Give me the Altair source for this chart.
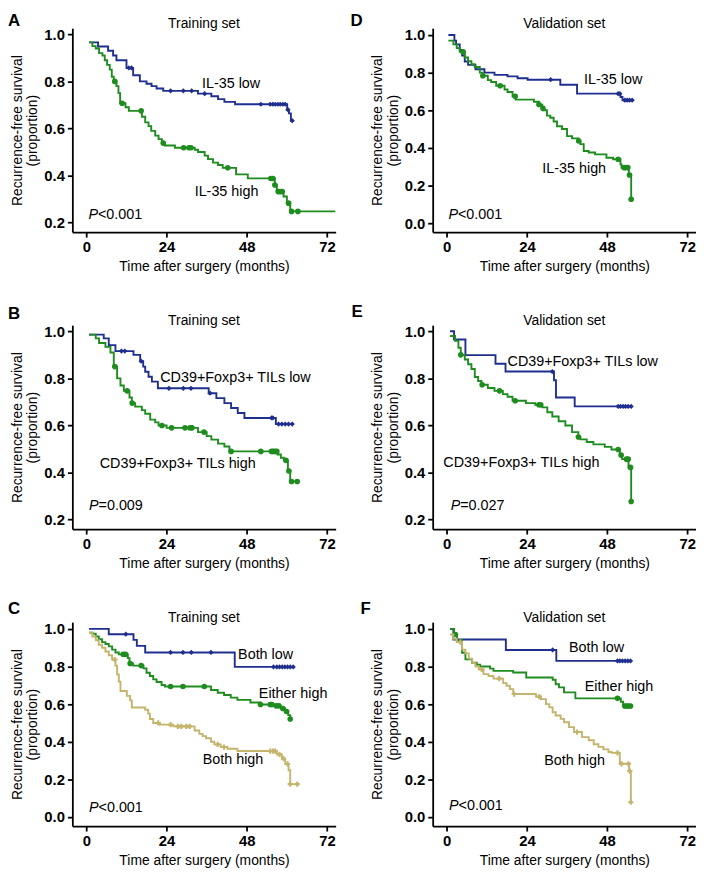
import altair as alt
import pandas as pd

FONT = "Liberation Sans"
BLUE, GREEN, TAN = "#1f2f8f", "#1e8c1e", "#c4b46c"
XDOM = [-4.2, 74.6]
W, H = 266, 206
X_TICKS = [0, 24, 48, 72]
Y_TICKS_02 = [0.2, 0.4, 0.6, 0.8, 1.0]
Y_TICKS_00 = [0.0, 0.2, 0.4, 0.6, 0.8, 1.0]
YDOM_02 = [0.16, 1.026]
YDOM_00 = [-0.048, 1.036]

# ---------------- Panel A (Training set, IL-35) ----------------
A_low_t = [0.8, 3.5, 6.5, 8.0, 9.0, 12.0, 14.0, 16.0, 18.0, 19.5, 21.0, 23.0, 33.4, 37.4, 39.4, 41.3, 44.5, 60.1, 60.6, 61.2]
A_low_s = [0.966, 0.948, 0.93, 0.91, 0.89, 0.857, 0.826, 0.80, 0.79, 0.78, 0.77, 0.76, 0.748, 0.737, 0.725, 0.713, 0.703, 0.68, 0.664, 0.633]
A_low_c = [12.7, 13.5, 25.2, 29.0, 31.5, 35.4, 52.2, 55.0, 55.8, 56.5, 57.3, 58.0, 58.8, 59.5, 60.3, 61.6]
A_low_end = 61.6
A_high_t = [0.8, 1.8, 2.8, 3.8, 4.8, 5.5, 6.2, 7.0, 7.6, 8.2, 9.0, 9.6, 10.1, 11.7, 12.7, 16.6, 17.6, 18.6, 19.4, 20.6, 21.6, 22.6, 23.5, 26.5, 32.4, 33.4, 35.4, 36.4, 37.9, 39.4, 40.8, 44.8, 48.3, 56.4, 57.0, 59.0, 60.0, 61.0]
A_high_s = [0.966, 0.95, 0.94, 0.92, 0.91, 0.89, 0.87, 0.85, 0.82, 0.80, 0.78, 0.75, 0.707, 0.69, 0.675, 0.65, 0.626, 0.61, 0.59, 0.57, 0.555, 0.538, 0.528, 0.518, 0.51, 0.50, 0.485, 0.47, 0.455, 0.445, 0.433, 0.405, 0.388, 0.36, 0.332, 0.311, 0.283, 0.248]
A_high_c = [8.5, 10.7, 16.4, 23.0, 29.1, 30.7, 31.3, 42.3, 55.2, 55.8, 56.4, 57.4, 58.0, 58.6, 60.5, 61.4, 63.3]
A_high_end = 74.5

# ---------------- Panel D (Validation set, IL-35) ----------------
D_low_t = [0.5, 2.3, 2.8, 3.9, 4.6, 5.4, 6.4, 8.6, 11.3, 14.3, 18.2, 21.2, 24.2, 34.0, 39.0, 52.0, 52.6]
D_low_s = [1.0, 0.97, 0.95, 0.92, 0.89, 0.859, 0.841, 0.818, 0.80, 0.788, 0.78, 0.77, 0.762, 0.735, 0.688, 0.67, 0.653]
D_low_c = [31.1, 51.3, 51.8, 53.3, 54.0, 54.7, 55.5]
D_low_end = 55.5
D_high_t = [0.5, 2.0, 3.0, 3.9, 5.4, 6.4, 7.4, 8.4, 9.9, 10.8, 12.3, 13.3, 14.8, 17.3, 18.2, 19.7, 20.6, 26.1, 27.6, 28.6, 29.0, 30.0, 31.0, 32.0, 33.0, 34.5, 36.0, 37.5, 39.5, 40.0, 41.0, 42.5, 44.4, 47.8, 49.8, 52.0, 52.3, 54.5, 55.2]
D_high_s = [0.97, 0.95, 0.93, 0.91, 0.88, 0.86, 0.845, 0.83, 0.80, 0.783, 0.76, 0.75, 0.73, 0.71, 0.697, 0.674, 0.656, 0.645, 0.63, 0.61, 0.60, 0.571, 0.56, 0.54, 0.515, 0.50, 0.462, 0.45, 0.436, 0.42, 0.383, 0.375, 0.365, 0.347, 0.339, 0.312, 0.295, 0.256, 0.127]
D_high_c = [4.9, 10.8, 16.0, 20.5, 27.6, 28.8, 39.5, 51.3, 53.0, 53.5, 54.2, 54.7, 55.2]
D_high_end = 55.3

# ---------------- Panel B (Training set, CD39+Foxp3+) ----------------
B_low_t = [0.8, 5.2, 6.7, 8.7, 14.1, 16.1, 17.0, 17.6, 18.6, 19.6, 21.4, 36.6, 38.9, 41.3, 43.3, 45.3, 47.3, 56.7]
B_low_s = [0.986, 0.97, 0.941, 0.916, 0.90, 0.873, 0.85, 0.828, 0.807, 0.786, 0.758, 0.737, 0.716, 0.695, 0.674, 0.653, 0.632, 0.606]
B_low_c = [10.5, 11.5, 16.4, 24.7, 29.0, 31.3, 37.0, 55.4, 55.8, 57.5, 58.5, 59.5, 60.5, 61.6]
B_low_end = 61.6
B_high_t = [0.8, 2.8, 3.8, 5.7, 7.2, 8.2, 9.2, 10.2, 11.2, 12.9, 13.6, 14.6, 16.6, 17.6, 19.1, 20.6, 21.6, 24.0, 33.4, 36.0, 37.4, 39.4, 41.3, 42.8, 57.2, 58.2, 59.1, 60.3, 61.0]
B_high_s = [0.986, 0.97, 0.95, 0.934, 0.91, 0.85, 0.80, 0.77, 0.747, 0.719, 0.695, 0.68, 0.665, 0.65, 0.625, 0.613, 0.60, 0.59, 0.572, 0.555, 0.54, 0.523, 0.511, 0.49, 0.477, 0.463, 0.452, 0.407, 0.362]
B_high_c = [8.5, 12.2, 13.7, 22.6, 25.5, 29.5, 31.0, 31.6, 35.2, 43.3, 52.2, 55.4, 55.9, 56.5, 57.0, 59.7, 60.6, 61.4, 63.1]
B_high_end = 63.1

# ---------------- Panel E (Validation set, CD39+Foxp3+) ----------------
E_low_t = [1.0, 2.2, 5.6, 14.6, 17.6, 32.1, 32.7, 38.3]
E_low_s = [1.0, 0.965, 0.899, 0.862, 0.829, 0.792, 0.719, 0.681]
E_low_c = [31.6, 51.3, 52.0, 52.8, 53.5, 54.3, 55.2]
E_low_end = 55.2
E_high_t = [1.0, 2.5, 3.5, 4.2, 5.4, 6.4, 7.4, 8.4, 9.4, 10.4, 12.3, 14.3, 16.8, 18.2, 19.7, 23.7, 26.5, 28.6, 30.1, 31.6, 33.5, 35.5, 37.5, 39.4, 40.0, 41.9, 43.9, 47.3, 49.3, 51.8, 52.5, 54.4, 55.2]
E_high_s = [0.98, 0.96, 0.93, 0.90, 0.88, 0.86, 0.84, 0.806, 0.789, 0.773, 0.759, 0.747, 0.733, 0.722, 0.705, 0.695, 0.688, 0.677, 0.656, 0.638, 0.618, 0.60, 0.572, 0.551, 0.541, 0.53, 0.52, 0.509, 0.498, 0.474, 0.457, 0.422, 0.277]
E_high_c = [4.2, 10.6, 15.8, 20.5, 27.6, 28.1, 39.4, 51.3, 52.2, 53.8, 54.3, 55.0, 55.2]
E_high_end = 55.3

# ---------------- Panel C (Training set, combined) ----------------
C_low_t = [0.8, 6.7, 14.1, 15.1, 17.6, 44.4]
C_low_s = [1.0, 0.972, 0.942, 0.91, 0.875, 0.798]
C_low_c = [11.8, 25.2, 28.9, 31.4, 37.3, 56.0, 57.0, 57.8, 58.6, 59.4, 60.2, 61.0, 61.9]
C_low_end = 61.9
C_mid_t = [0.8, 1.8, 2.8, 3.7, 4.7, 5.7, 6.7, 7.7, 8.7, 9.7, 12.4, 12.9, 14.0, 17.1, 18.0, 19.0, 20.0, 21.0, 22.5, 23.5, 37.3, 39.3, 41.2, 43.2, 45.2, 49.1, 52.1, 56.0, 58.2, 59.5, 60.4, 61.0]
C_mid_s = [0.98, 0.975, 0.96, 0.945, 0.93, 0.92, 0.907, 0.89, 0.875, 0.865, 0.845, 0.816, 0.805, 0.79, 0.767, 0.75, 0.732, 0.718, 0.702, 0.694, 0.675, 0.661, 0.649, 0.635, 0.623, 0.609, 0.598, 0.591, 0.577, 0.561, 0.542, 0.521]
C_mid_c = [11.0, 11.7, 13.1, 16.4, 25.2, 28.9, 35.3, 52.1, 55.0, 55.5, 56.8, 57.6, 58.8, 59.9, 61.0]
C_mid_end = 61.1
C_high_t = [0.8, 1.8, 2.8, 3.7, 4.7, 5.7, 6.7, 7.7, 8.7, 9.2, 9.7, 10.2, 12.1, 13.1, 13.6, 17.6, 18.5, 19.0, 20.0, 22.0, 26.0, 32.4, 33.8, 34.8, 35.8, 37.3, 38.3, 40.2, 42.2, 45.2, 57.0, 58.5, 59.5, 60.5, 61.0]
C_high_s = [0.98, 0.96, 0.94, 0.916, 0.90, 0.88, 0.86, 0.837, 0.805, 0.758, 0.72, 0.67, 0.644, 0.62, 0.582, 0.57, 0.55, 0.521, 0.50, 0.491, 0.482, 0.46, 0.442, 0.43, 0.419, 0.40, 0.386, 0.372, 0.363, 0.351, 0.333, 0.31, 0.282, 0.249, 0.175]
C_high_c = [8.5, 21.5, 25.2, 27.4, 28.4, 29.9, 30.9, 39.3, 41.2, 55.0, 55.8, 56.5, 57.8, 59.0, 60.2, 61.0, 63.1]
C_high_end = 63.1

# ---------------- Panel F (Validation set, combined) ----------------
F_low_t = [1.0, 2.0, 17.7, 32.8]
F_low_s = [1.0, 0.944, 0.888, 0.83]
F_low_c = [31.7, 51.1, 51.8, 52.6, 53.4, 54.2, 55.0]
F_low_end = 55.3
F_mid_t = [1.0, 2.2, 3.1, 4.6, 5.6, 7.6, 9.0, 10.0, 13.0, 14.0, 19.9, 23.8, 31.7, 32.6, 33.6, 35.1, 38.5, 52.1, 52.8]
F_mid_s = [1.0, 0.97, 0.94, 0.873, 0.838, 0.82, 0.81, 0.80, 0.789, 0.777, 0.768, 0.742, 0.73, 0.706, 0.689, 0.663, 0.631, 0.613, 0.59]
F_mid_c = [2.6, 51.1, 53.3, 53.8, 54.4, 55.0]
F_mid_end = 55.3
F_high_t = [1.0, 2.0, 3.0, 4.6, 5.6, 6.6, 7.6, 8.6, 9.6, 11.0, 12.5, 14.0, 16.9, 17.9, 18.9, 19.9, 26.7, 28.2, 29.7, 30.7, 31.7, 32.6, 34.1, 35.1, 36.6, 38.1, 40.5, 42.5, 44.0, 45.4, 46.9, 48.4, 49.4, 51.8, 54.6, 55.1]
F_high_s = [0.97, 0.947, 0.93, 0.89, 0.87, 0.842, 0.82, 0.80, 0.785, 0.76, 0.75, 0.736, 0.712, 0.698, 0.68, 0.654, 0.64, 0.627, 0.60, 0.583, 0.557, 0.54, 0.522, 0.504, 0.478, 0.452, 0.425, 0.408, 0.387, 0.373, 0.36, 0.346, 0.341, 0.283, 0.244, 0.079]
F_high_c = [4.1, 10.5, 15.7, 20.2, 27.7, 39.0, 51.1, 52.3, 54.4, 54.8, 55.1]
F_high_end = 55.2

# ---------------- Annotation texts ----------------
LBL_A = (["IL-35 low", "IL-35 high"], [34.6, 32.4], [0.787, 0.332])
LBL_D = (["IL-35 low", "IL-35 high"], [41.1, 28.6], [0.762, 0.286])
LBL_B = (["CD39+Foxp3+ TILs low", "CD39+Foxp3+ TILs high"], [22.1, 4.0], [0.80, 0.435])
LBL_E = (["CD39+Foxp3+ TILs low", "CD39+Foxp3+ TILs high"], [18.2, -1.0], [0.871, 0.441])
LBL_C = (["Both low", "Either high", "Both high"], [45.4, 51.6, 34.8], [0.863, 0.653, 0.302])
LBL_F = (["Both low", "Either high", "Both high"], [36.6, 41.3, 29.2], [0.90, 0.692, 0.297])
P_A = ("<0.001", 0.6, 0.234)
P_D = ("<0.001", 0.5, 0.042)
P_B = ("=0.009", 0.8, 0.259)
P_E = ("=0.027", 1.2, 0.256)
P_C = ("<0.001", 0.8, 0.047)
P_F = ("<0.001", 0.7, 0.056)


def step_df(t, s, end):
    return pd.DataFrame({"t": list(t) + [end], "s": list(s) + [s[-1]]})


def cens_df(t, s, c):
    ys = []
    for ci in c:
        v = s[0]
        for ti, si in zip(t, s):
            if ti <= ci:
                v = si
        ys.append(v)
    return pd.DataFrame({"t": c, "s": ys})


MARK = {
    BLUE: dict(shape="diamond", filled=True, size=28),
    GREEN: dict(shape="circle", filled=True, size=32),
    TAN: dict(shape="cross", filled=True, size=28),
}


def panel(curves, ydom, yvals, letter, lx, ly, title, lbl, pv):
    x = alt.X("t:Q", scale=alt.Scale(domain=XDOM, nice=False, zero=False),
              axis=alt.Axis(values=X_TICKS, title="Time after surgery (months)", titlePadding=5))
    y = alt.Y("s:Q", scale=alt.Scale(domain=ydom, nice=False, zero=False),
              axis=alt.Axis(values=yvals, format=".1f",
                            title=["Recurrence-free survival", "(proportion)"], titlePadding=4))
    layers = []
    for t, s, c, end, col in curves:
        layers.append(alt.Chart(step_df(t, s, end)).mark_line(
            interpolate="step-after", color=col, strokeWidth=1.9).encode(x=x, y=y))
        layers.append(alt.Chart(cens_df(t, s, c)).mark_point(
            color=col, opacity=1, **MARK[col]).encode(x=x, y=y))
    txt = pd.DataFrame({"t": lbl[1], "s": lbl[2], "txt": lbl[0]})
    layers.append(alt.Chart(txt).mark_text(
        align="left", baseline="middle", font=FONT, fontSize=14.5, color="black").encode(
        x=x, y=y, text="txt:N"))
    pdf = pd.DataFrame({"t": [pv[1]], "s": [pv[2]], "p": ["P"], "rest": [pv[0]]})
    layers.append(alt.Chart(pdf).mark_text(
        align="left", baseline="middle", font=FONT, fontSize=14.5, fontStyle="italic",
        color="black").encode(x=x, y=y, text="p:N"))
    layers.append(alt.Chart(pdf).mark_text(
        align="left", baseline="middle", font=FONT, fontSize=14.5, dx=9.6,
        color="black").encode(x=x, y=y, text="rest:N"))
    layers.append(alt.Chart(pd.DataFrame({"k": [letter]})).mark_text(
        align="left", baseline="top", font=FONT, fontSize=17, fontWeight="bold",
        color="black").encode(x=alt.value(lx), y=alt.value(ly), text="k:N"))
    layers.append(alt.Chart(pd.DataFrame({"k": [title]})).mark_text(
        align="center", baseline="top", font=FONT, fontSize=14,
        color="black").encode(x=alt.value(W / 2), y=alt.value(-11), text="k:N"))
    return alt.layer(*layers).properties(width=W, height=H)


pA = panel([(A_low_t, A_low_s, A_low_c, A_low_end, BLUE),
            (A_high_t, A_high_s, A_high_c, A_high_end, GREEN)],
           YDOM_02, Y_TICKS_02, "A", -65, -15, "Training set", LBL_A, P_A)
pD = panel([(D_low_t, D_low_s, D_low_c, D_low_end, BLUE),
            (D_high_t, D_high_s, D_high_c, D_high_end, GREEN)],
           YDOM_00, Y_TICKS_00, "D", -83, -15, "Validation set", LBL_D, P_D)
pB = panel([(B_low_t, B_low_s, B_low_c, B_low_end, BLUE),
            (B_high_t, B_high_s, B_high_c, B_high_end, GREEN)],
           YDOM_02, Y_TICKS_02, "B", -65, -19, "Training set", LBL_B, P_B)
pE = panel([(E_low_t, E_low_s, E_low_c, E_low_end, BLUE),
            (E_high_t, E_high_s, E_high_c, E_high_end, GREEN)],
           YDOM_02, Y_TICKS_02, "E", -82, -21, "Validation set", LBL_E, P_E)
pC = panel([(C_low_t, C_low_s, C_low_c, C_low_end, BLUE),
            (C_mid_t, C_mid_s, C_mid_c, C_mid_end, GREEN),
            (C_high_t, C_high_s, C_high_c, C_high_end, TAN)],
           YDOM_00, Y_TICKS_00, "C", -65, -21, "Training set", LBL_C, P_C)
pF = panel([(F_low_t, F_low_s, F_low_c, F_low_end, BLUE),
            (F_mid_t, F_mid_s, F_mid_c, F_mid_end, GREEN),
            (F_high_t, F_high_s, F_high_c, F_high_end, TAN)],
           YDOM_00, Y_TICKS_00, "F", -73, -21, "Validation set", LBL_F, P_F)

chart = alt.concat(pA, pD, pB, pE, pC, pF, columns=2,
                   spacing={"row": 94, "column": 98}, bounds="flush").properties(
    padding={"left": 0, "top": 0, "right": 0, "bottom": 0},
    background="white"
).configure_view(stroke=None).configure_axis(
    grid=False, domainColor="black", domainWidth=1.8, tickColor="black", tickWidth=1.8,
    tickSize=5, labelFont=FONT, labelFontSize=15, labelFontWeight="bold", labelColor="black",
    labelPadding=3, titleFont=FONT, titleFontSize=14, titleFontWeight="normal", titleColor="black"
)

chart.save("out.html", embed_options={"renderer": "svg", "actions": False})
